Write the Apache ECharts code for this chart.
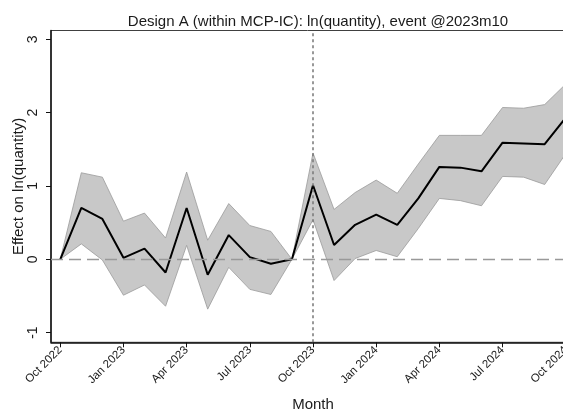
<!DOCTYPE html>
<html>
<head>
<meta charset="utf-8">
<script src="https://cdn.jsdelivr.net/npm/echarts@6/dist/echarts.min.js"></script>
<style>
  html, body { margin: 0; padding: 0; background: #fff; }
  #chart { width: 563px; height: 412px; }
</style>
</head>
<body>
<div id="chart"></div>
<script>
// Monthly event-study coefficients, Oct 2022 .. Oct 2024 (month index 0..24)
const months = ['2022-10','2022-11','2022-12','2023-01','2023-02','2023-03','2023-04','2023-05','2023-06',
  '2023-07','2023-08','2023-09','2023-10','2023-11','2023-12','2024-01','2024-02','2024-03','2024-04',
  '2024-05','2024-06','2024-07','2024-08','2024-09','2024-10'];
const estimate = [0, 0.70, 0.55, 0.02, 0.145, -0.18, 0.70, -0.21, 0.33, 0.03, -0.06, 0,
  1.01, 0.195, 0.47, 0.61, 0.47, 0.83, 1.26, 1.25, 1.20, 1.59, 1.58, 1.57, 1.93];
const upper = [0, 1.18, 1.12, 0.52, 0.63, 0.29, 1.19, 0.26, 0.76, 0.46, 0.38, 0,
  1.45, 0.68, 0.91, 1.08, 0.90, 1.30, 1.69, 1.69, 1.69, 2.07, 2.06, 2.11, 2.39];
const lower = [0, 0.21, -0.01, -0.49, -0.35, -0.64, 0.19, -0.68, -0.11, -0.41, -0.48, 0,
  0.54, -0.29, 0.01, 0.12, 0.035, 0.42, 0.83, 0.80, 0.73, 1.13, 1.12, 1.02, 1.44];
// Quarterly tick positions (month index) and their labels
const tickMonths = [0, 3, 6, 9, 12, 15, 18, 21, 24];
const tickLabels = ['Oct 2022','Jan 2023','Apr 2023','Jul 2023','Oct 2023','Jan 2024','Apr 2024','Jul 2024','Oct 2024'];
const yTicks = [-1, 0, 1, 2, 3];
const eventMonth = 12;

const FONT = '"Liberation Sans", Arial, sans-serif';
const chart = echarts.init(document.getElementById('chart'), null, { renderer: 'canvas' });

chart.setOption({
  animation: false,
  backgroundColor: '#ffffff',
  title: {
    text: 'Design A (within MCP-IC): ln(quantity), event @2023m10',
    left: 313, top: 9, textAlign: 'center',
    textStyle: { fontFamily: FONT, fontSize: 15, fontWeight: 'normal', color: '#1a1a1a' }
  },
  grid: {
    left: 51, top: 30.5, width: 524, height: 311.8,
    outerBoundsMode: 'none',
    show: true, borderColor: '#404040', borderWidth: 1, backgroundColor: 'transparent'
  },
  xAxis: {
    type: 'value', min: -0.44, max: 24.44,
    name: 'Month', nameLocation: 'middle', nameGap: 55, nameMoveOverlap: false,
    nameTextStyle: { fontFamily: FONT, fontSize: 15, color: '#1a1a1a' },
    axisLine: { show: true, onZero: false, lineStyle: { color: '#111', width: 1.5 } },
    axisTick: { show: true, length: 5, customValues: tickMonths, lineStyle: { color: '#111', width: 1 } },
    axisLabel: {
      customValues: tickMonths, rotate: 45, margin: 6,
      fontFamily: FONT, fontSize: 11.5, color: '#1a1a1a',
      formatter: v => tickLabels[tickMonths.indexOf(Math.round(v))] || ''
    },
    splitLine: { show: false }
  },
  yAxis: {
    type: 'value', min: -1.132, max: 3.12,
    name: 'Effect on ln(quantity)', nameLocation: 'middle', nameGap: 25, nameMoveOverlap: false,
    nameTextStyle: { fontFamily: FONT, fontSize: 15, color: '#1a1a1a' },
    axisLine: { show: true, onZero: false, lineStyle: { color: '#111', width: 1.5 } },
    axisTick: { show: true, length: 5, customValues: yTicks, lineStyle: { color: '#111', width: 1 } },
    axisLabel: {
      customValues: yTicks, rotate: 90, margin: 11,
      fontFamily: FONT, fontSize: 14, color: '#1a1a1a'
    },
    splitLine: { show: false }
  },
  series: [
    {
      // confidence band as one polygon: upper bound forward, lower bound back
      type: 'custom',
      coordinateSystem: 'cartesian2d',
      data: months.map((m, i) => [i, estimate[i]]),
      z: 1,
      renderItem: function (params, api) {
        if (params.dataIndex !== 0) return;
        const pts = [];
        for (let i = 0; i < months.length; i++) pts.push(api.coord([i, upper[i]]));
        for (let i = months.length - 1; i >= 0; i--) pts.push(api.coord([i, lower[i]]));
        return {
          type: 'polygon',
          shape: { points: pts },
          style: { fill: '#c8c8c8', stroke: '#9a9a9a', lineWidth: 0.8 }
        };
      },
      silent: true
    },
    {
      type: 'line',
      data: months.map((m, i) => [i, estimate[i]]),
      showSymbol: false,
      z: 3,
      lineStyle: { color: '#000', width: 2 },
      markLine: {
        silent: true, symbol: 'none', label: { show: false },
        data: [
          { yAxis: 0, lineStyle: { color: '#999', type: [12, 6], width: 1.3 } },
          { xAxis: eventMonth, lineStyle: { color: '#777', type: [3, 3], width: 1.5 } }
        ]
      }
    }
  ]
});
</script>
</body>
</html>
